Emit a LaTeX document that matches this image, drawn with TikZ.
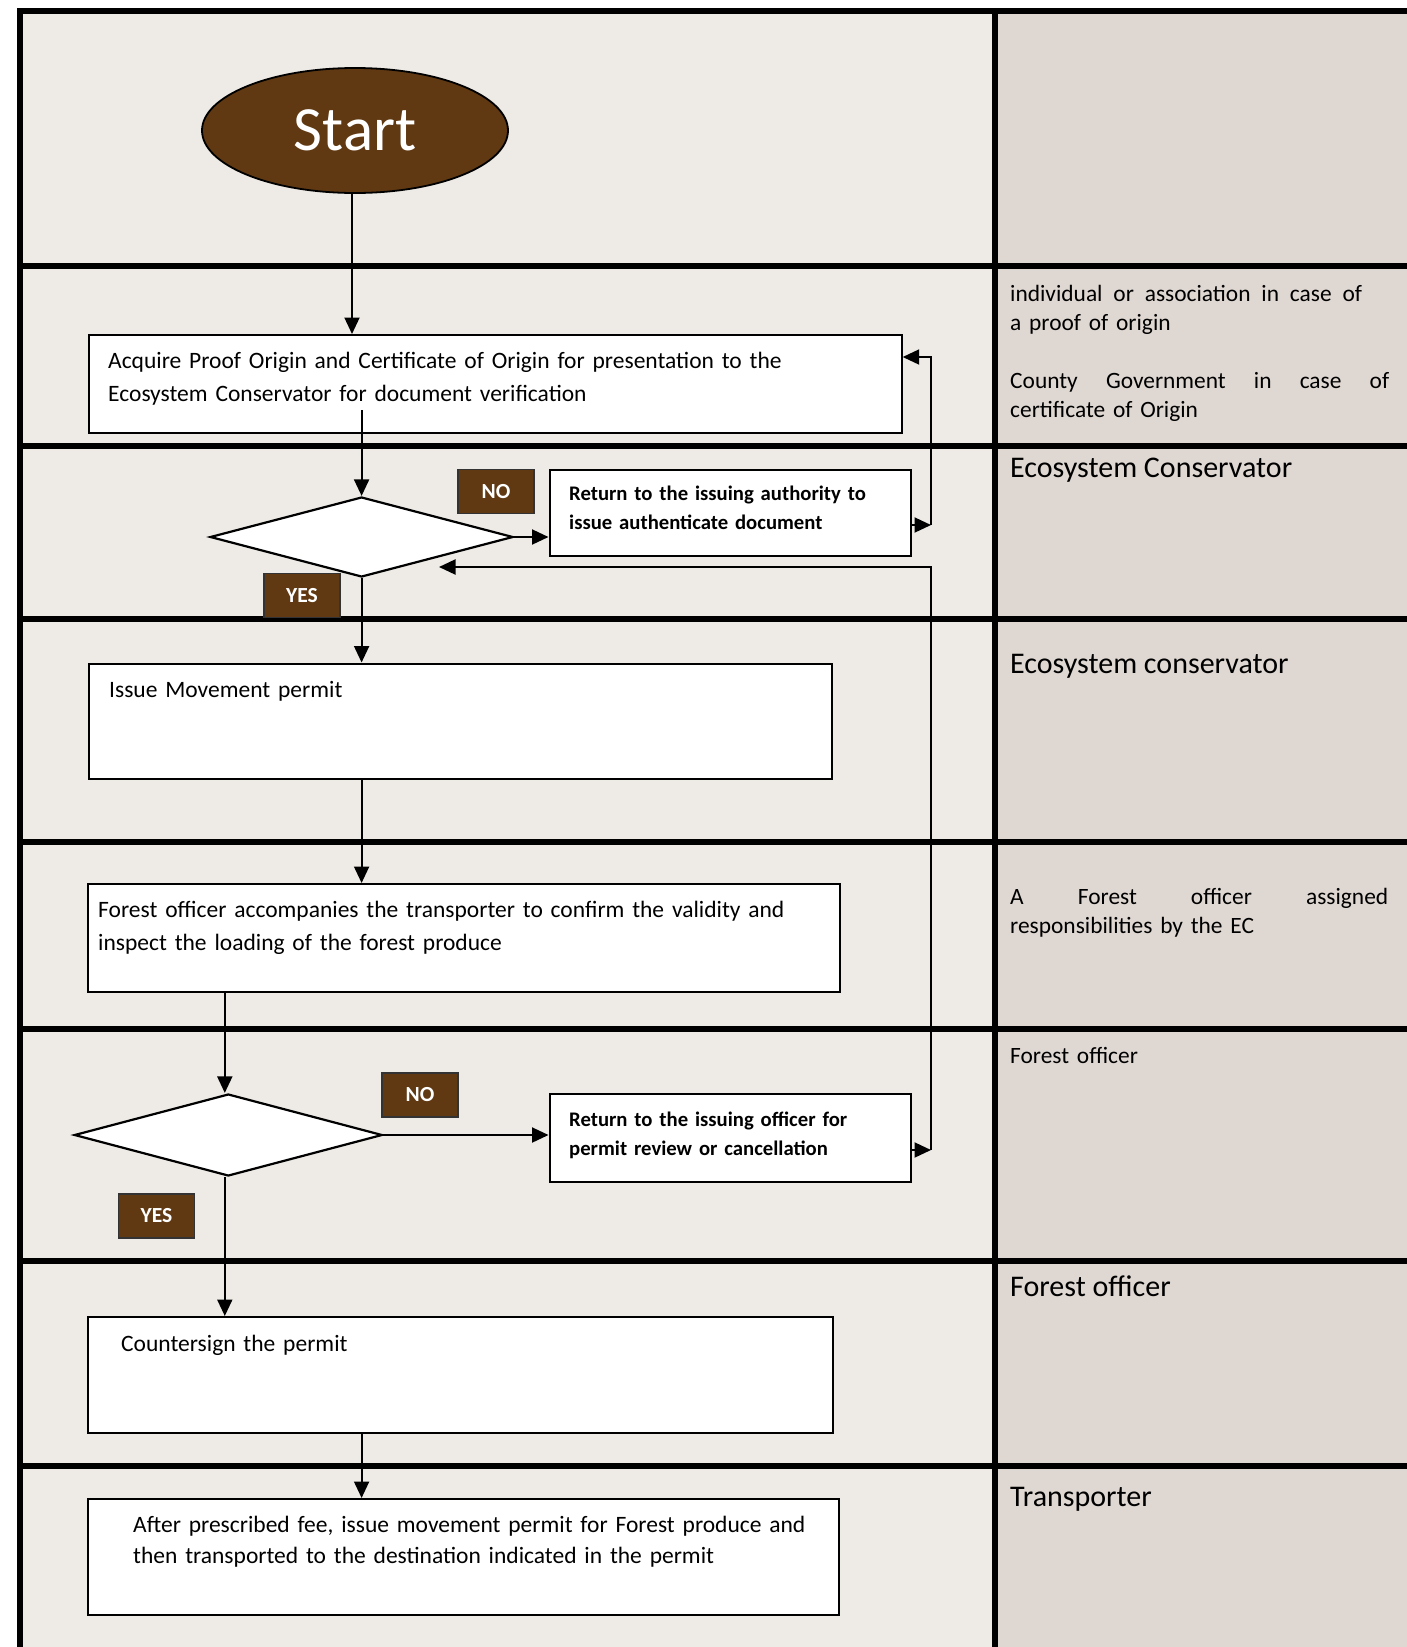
\documentclass[tikz,border=0pt]{standalone}
\usepackage{fontspec}
\setmainfont{Carlito}
\usetikzlibrary{shapes.geometric,arrows.meta}
\definecolor{lanegrey}{RGB}{238,235,230}
\definecolor{rolegrey}{RGB}{223,215,209}
\definecolor{barkbrown}{RGB}{96,57,19}

\begin{document}
\begin{tikzpicture}[x=1pt,y=-1pt,
    lane/.style={line width=5.2pt},
    flow/.style={line width=2pt,-{Triangle[length=16.5pt,width=15pt]}},
    startnode/.style={ellipse,draw,fill=barkbrown,line width=1.8pt,inner sep=0pt,minimum width=306pt,minimum height=125pt,text=white,font=\fontsize{63}{70}\selectfont},
    procbox/.style={draw,fill=white,line width=2.2pt,anchor=north west,inner sep=0pt},
    decide/.style={diamond,draw,fill=white,line width=2.2pt,inner sep=0pt},
    tag/.style={draw=black!80,fill=barkbrown,line width=1.4pt,inner sep=0pt,minimum width=76pt,minimum height=44pt,text=white,font=\fontsize{21.5}{26}\selectfont\bfseries},
    boxtxt/.style={anchor=base west,inner sep=0pt,text width=780pt,align=left,font=\fontsize{23.5}{33}\selectfont},
    boxbold/.style={anchor=base west,inner sep=0pt,text width=340pt,align=left,font=\fontsize{20.7}{29}\selectfont\bfseries},
    rolesmall/.style={anchor=base west,inner sep=0pt,text width=385pt,align=left,font=\fontsize{23.4}{29}\selectfont},
    rolebig/.style={anchor=base west,inner sep=0pt,font=\fontsize{30}{36}\selectfont}]

    \useasboundingbox (0,0) rectangle (1407,1647);
    \fill[white] (0,0) rectangle (1407,1647);

    % lanes
    \fill[lanegrey] (20,11) rectangle (995,1647);
    \fill[rolegrey] (995,11) rectangle (1407,1647);
    \foreach \y in {266,446,619,842,1029,1261,1466}
        \draw[lane] (20,\y) -- (1407,\y);
    \draw[lane] (1407,11) -- (20,11) -- (20,1647);
    \draw[lane] (995,11) -- (995,1647);

    % roles
    \node[rolesmall] (role1a) at (1010,301) {\hbox to 352pt{individual\hfill or\hfill association\hfill in\hfill case\hfill of}\\a proof of origin};
    \node[rolesmall] (role1b) at (1010,388) {\hbox to 379pt{County\hfill Government\hfill in\hfill case\hfill of}\\certificate of Origin};
    \node[rolebig] (role2) at (1010,477) {Ecosystem Conservator};
    \node[rolebig] (role3) at (1010,673) {Ecosystem conservator};
    \node[rolesmall] (role4) at (1010,904) {\hbox to 378pt{A\hfill Forest\hfill officer\hfill assigned}\\responsibilities by the EC};
    \node[rolesmall] (role5) at (1010,1063) {Forest officer};
    \node[rolebig] (role6) at (1010,1296) {Forest officer};
    \node[rolebig] (role7) at (1010,1506) {Transporter};

    % flow
    \node[startnode] (start) at (355,130.5) {Start};

    \node[procbox,minimum width=812.5pt,minimum height=97.7pt] (acq) at (88,334) {};
    \node[boxtxt] (acq-t) at (108,368) {Acquire Proof Origin and Certificate of Origin for presentation to the\\Ecosystem Conservator for document verification};

    \node[decide,minimum width=303pt,minimum height=80pt] (dia1) at (361.6,537) {};
    \node[procbox,minimum width=361.5pt,minimum height=86pt] (ret1) at (548.5,469) {};
    \node[boxbold] (ret1-t) at (569,500) {Return to the issuing authority to\\issue authenticate document};
    \node[tag] (no1) at (496,491.5) {NO};
    \node[tag] (yes1) at (302,595.5) {YES};

    \node[procbox,minimum width=742.5pt,minimum height=115.5pt] (issue) at (88,662.5) {};
    \node[boxtxt] (issue-t) at (109,697) {Issue Movement permit};

    \node[procbox,minimum width=752pt,minimum height=108pt] (insp) at (87,883) {};
    \node[boxtxt] (insp-t) at (98,917) {Forest officer accompanies the transporter to confirm the validity and\\inspect the loading of the forest produce};

    \node[decide,minimum width=308pt,minimum height=82pt] (dia2) at (228.3,1135) {};
    \node[procbox,minimum width=361.5pt,minimum height=87.7pt] (ret2) at (548.5,1093) {};
    \node[boxbold] (ret2-t) at (569,1126) {Return to the issuing officer for\\permit review or cancellation};
    \node[tag] (no2) at (420,1095) {NO};
    \node[tag] (yes2) at (156.5,1216) {YES};

    \node[procbox,minimum width=744.6pt,minimum height=116pt] (csign) at (87,1316) {};
    \node[boxtxt] (csign-t) at (121,1351) {Countersign the permit};

    \node[procbox,minimum width=751pt,minimum height=116pt] (after) at (87,1498) {};
    \node[boxtxt,font=\fontsize{23.5}{31}\selectfont] (after-t) at (133,1532) {After prescribed fee, issue movement permit for Forest produce and\\then transported to the destination indicated in the permit};

    % connectors
    \coordinate (startout) at ([xshift=-3pt]start.south);
    \coordinate (acqout) at ([yshift=24pt]acq.south -| dia1.north);
    \coordinate (inspout) at ([xshift=-3.5pt]insp.south -| dia2.north);
    \coordinate (loopa) at (931,525);
    \coordinate (looptop) at (931,357);
    \coordinate (loopb) at (931,1150);
    \coordinate (loopc) at (931,567);
    \coordinate (backtip) at (439,567);

    \draw[flow] (startout) -- (startout |- acq.north);
    \draw[flow] (acqout) -- (dia1.north);
    \draw[flow] (dia1.east) -- (dia1.east -| ret1.west);
    \draw[flow] (ret1.east |- loopa) -- (loopa);
    \draw[flow] (loopa) -- (looptop) -- (looptop -| acq.east);
    \draw[flow] (dia1.south) -- (dia1.south |- issue.north);
    \draw[flow] (issue.south -| dia1.south) -- (dia1.south |- insp.north);
    \draw[flow] (inspout) -- (inspout |- dia2.north);
    \draw[flow] (dia2.east) -- (dia2.east -| ret2.west);
    \draw[flow] (ret2.east |- loopb) -- (loopb);
    \draw[flow] (loopb) -- (loopc) -- (backtip);
    \draw[flow] ([xshift=-3.5pt]dia2.south) -- ([xshift=-3.5pt]dia2.south |- csign.north);
    \draw[flow] (csign.south -| dia1.south) -- (dia1.south |- after.north);
\end{tikzpicture}
\end{document}
